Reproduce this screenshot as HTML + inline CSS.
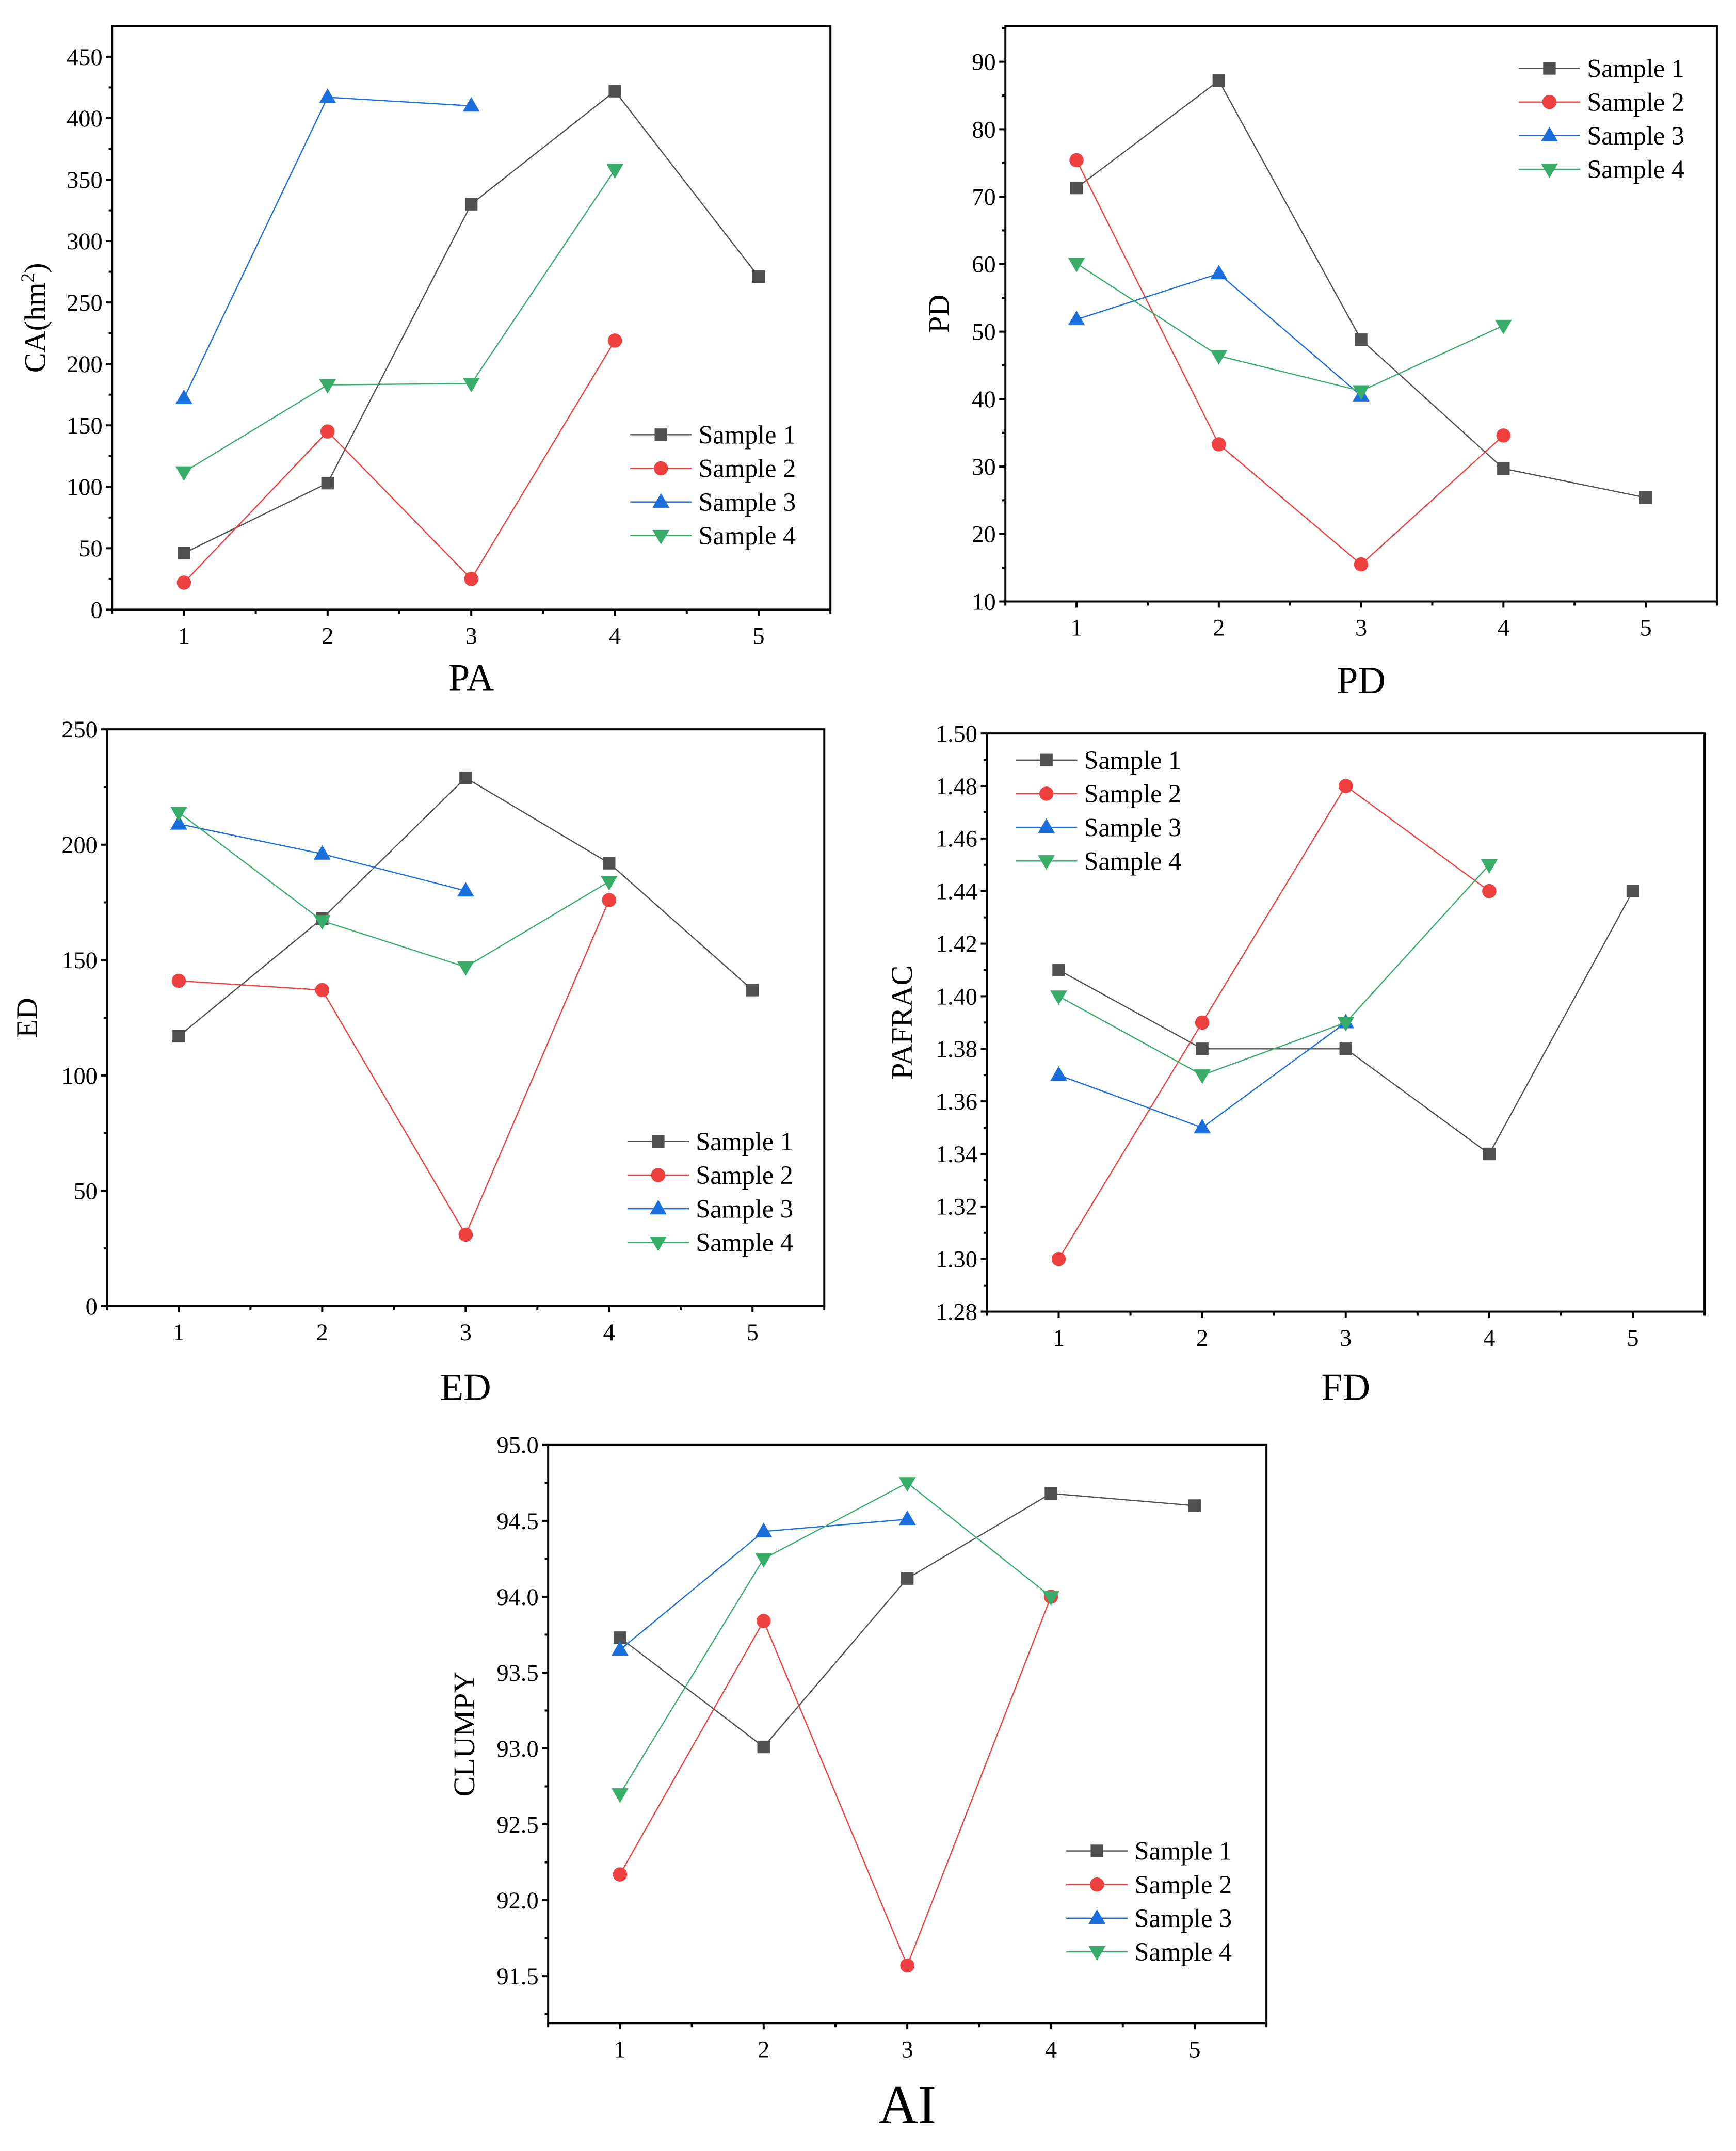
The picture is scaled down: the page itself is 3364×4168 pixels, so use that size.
<!DOCTYPE html>
<html><head><meta charset="utf-8"><style>
html,body{margin:0;padding:0;background:#fff}
svg{display:block}
svg text{font-family:"Liberation Serif","Times New Roman",serif !important;fill:#000}
</style></head><body>
<svg id="fig" width="3364" height="4168" viewBox="0 0 1270 1573.5" xmlns="http://www.w3.org/2000/svg" font-family="Liberation Serif, serif"></svg>
<script>
// ---- data ----
const xCats = [1,2,3,4,5];
const seriesNames = ["Sample 1","Sample 2","Sample 3","Sample 4"];
// Panel 1: CA
const caS1 = [46,103,330,422,271];
const caS2 = [22,145,25,219];
const caS3 = [172,417,410];
const caS4 = [112,183,184,358];
const caTicks = [0,50,100,150,200,250,300,350,400,450];
// Panel 2: PD
const pdS1 = [71.3,87.2,48.8,29.7,25.4];
const pdS2 = [75.4,33.3,15.5,34.6];
const pdS3 = [51.8,58.6,40.5];
const pdS4 = [60.1,46.4,41.2,50.9];
const pdTicks = [10,20,30,40,50,60,70,80,90];
// Panel 3: ED
const edS1 = [117,168,229,192,137];
const edS2 = [141,137,31,176];
const edS3 = [209,196,180];
const edS4 = [214,167,147,184];
const edTicks = [0,50,100,150,200,250];
// Panel 4: PAFRAC
const frS1 = [1.41,1.38,1.38,1.34,1.44];
const frS2 = [1.30,1.39,1.48,1.44];
const frS3 = [1.37,1.35,1.39];
const frS4 = [1.40,1.37,1.39,1.45];
const frTicks = [1.28,1.30,1.32,1.34,1.36,1.38,1.40,1.42,1.44,1.46,1.48,1.50];
// Panel 5: CLUMPY
const clS1 = [93.73,93.01,94.12,94.68,94.60];
const clS2 = [92.17,93.84,91.57,94.0];
const clS3 = [93.65,94.43,94.51];
const clS4 = [92.70,94.25,94.75,94.0];
const clTicks = [91.5,92.0,92.5,93.0,93.5,94.0,94.5,95.0];

const colors = ["#505050","#ef4040","#1a6fdc","#38ad6a"];
const NS = "http://www.w3.org/2000/svg";
const FONT = "Liberation Serif, Times New Roman, serif";
const svg = document.getElementById("fig");
function mk(tag, attrs, parent){
  const e = document.createElementNS(NS, tag);
  for (const k in attrs) e.setAttribute(k, attrs[k]);
  if (tag === "text") e.setAttribute("font-family", FONT);
  (parent||svg).appendChild(e);
  return e;
}
function marker(g, type, x, y, c){
  let m;
  if(type===0){ m = mk("rect",{x:x-4.6,y:y-4.6,width:9.2,height:9.2,fill:c},g); }
  else if(type===1){ m = mk("circle",{cx:x,cy:y,r:5.2,fill:c},g); }
  else if(type===2){ m = mk("polygon",{points:`${x},${y-6.5} ${x+6.2},${y+4.2} ${x-6.2},${y+4.2}`,fill:c},g); }
  else { m = mk("polygon",{points:`${x},${y+6.5} ${x+6.2},${y-4.2} ${x-6.2},${y-4.2}`,fill:c},g); }
  return m;
}
function panel(o){
  const g = mk("g",{});
  
  
  const X = v => o.x0 + (v-0.5)/5*(o.x1-o.x0);
  const Y = v => o.y1 - (v-o.ymin)/(o.ymax-o.ymin)*(o.y1-o.y0);
  const fr = mk("rect",{x:o.x0,y:o.y0,width:o.x1-o.x0,height:o.y1-o.y0,fill:"none",stroke:"#000","stroke-width":1.5},g);
  
  
  const step = o.yt[1]-o.yt[0];
  o.yt.forEach((t,i)=>{
    const y = Y(t);
    mk("line",{x1:o.x0-4.5,x2:o.x0,y1:y,y2:y,stroke:"#000","stroke-width":1.5},g);
    const tx = mk("text",{x:o.x0-7,y:y+6,"text-anchor":"end","font-size":17.5},g);
    tx.textContent = o.fmt ? t.toFixed(o.fmt) : t;
    
    
    const mv = t+step/2;
    if (Y(mv) > o.y0+0.5) mk("line",{x1:o.x0-2.5,x2:o.x0,y1:Y(mv),y2:Y(mv),stroke:"#000","stroke-width":1.5},g);
    if (i===0 && Y(t-step/2) < o.y1-0.5) mk("line",{x1:o.x0-2.5,x2:o.x0,y1:Y(t-step/2),y2:Y(t-step/2),stroke:"#000","stroke-width":1.5},g);
  });
  xCats.forEach(c=>{
    const x = X(c);
    mk("line",{x1:x,x2:x,y1:o.y1,y2:o.y1+4.5,stroke:"#000","stroke-width":1.5},g);
    const tx = mk("text",{x:x,y:o.y1+25,"text-anchor":"middle","font-size":17.5},g);
    tx.textContent = c;
    
    
  });
  [0.5,1.5,2.5,3.5,4.5,5.5].forEach(c=>{
    mk("line",{x1:X(c),x2:X(c),y1:o.y1,y2:o.y1+3,stroke:"#000","stroke-width":1.5},g);
  });
  const xt = mk("text",{x:(o.x0+o.x1)/2,y:o.xty,"text-anchor":"middle","font-size":o.xfs||28},g);
  xt.textContent = o.xtitle;
  
  
  const yt = mk("text",{x:0,y:0,"text-anchor":"middle","font-size":22,transform:`translate(${o.ytx},${(o.y0+o.y1)/2}) rotate(-90)`},g);
  if (o.ysup){ yt.innerHTML = 'CA(hm<tspan dy="-8" font-size="14">2</tspan><tspan dy="8">)</tspan>'; }
  else yt.textContent = o.ytitle;
  
  
  o.series.forEach((s,si)=>{
    const sg = mk("g",{},g);
    
    
    const pts = s.map((v,i)=>X(xCats[i])+","+Y(v)).join(" ");
    mk("polyline",{points:pts,fill:"none",stroke:colors[si],"stroke-width":0.9},sg);
    s.forEach((v,i)=>{
      const m = marker(sg, si, X(xCats[i]), Y(v), colors[si]);
      
      
    });
  });
  const lg = mk("g",{},g);
  
  
  seriesNames.forEach((n,i)=>{
    const y = o.ly + i*24.6;
    const e = mk("g",{},lg);
    
    
    mk("line",{x1:o.lx,x2:o.lx+45,y1:y,y2:y,stroke:colors[i],"stroke-width":0.9},e);
    marker(e, i, o.lx+22.5, y, colors[i]);
    const t = mk("text",{x:o.lx+50,y:y+6.5,"font-size":19},e);
    t.textContent = n;
  });
}
panel({name:"panel-ca",x0:82,x1:607.5,y0:19,y1:446,ymin:0,ymax:475,yt:caTicks,xtitle:"PA",xty:505,ytx:33,ysup:true,
  series:[caS1,caS2,caS3,caS4],lx:461,ly:318});
panel({name:"panel-pd",x0:735.5,x1:1256,y0:19,y1:440,ymin:10,ymax:95.3,yt:pdTicks,xtitle:"PD",xty:507,ytx:694,ytitle:"PD",
  series:[pdS1,pdS2,pdS3,pdS4],lx:1111,ly:50});
panel({name:"panel-ed",x0:78.3,x1:603,y0:533.5,y1:955.5,ymin:0,ymax:250,yt:edTicks,xtitle:"ED",xty:1024,ytx:27,ytitle:"ED",
  series:[edS1,edS2,edS3,edS4],lx:459,ly:835});
panel({name:"panel-pafrac",x0:722,x1:1247,y0:536.5,y1:959.5,ymin:1.28,ymax:1.50,yt:frTicks,fmt:2,xtitle:"FD",xty:1024,ytx:667,ytitle:"PAFRAC",
  series:[frS1,frS2,frS3,frS4],lx:743,ly:556});
panel({name:"panel-clumpy",x0:401,x1:926.5,y0:1057,y1:1480,ymin:91.19,ymax:95.0,yt:clTicks,fmt:1,xtitle:"AI",xty:1553,xfs:40,ytx:347,ytitle:"CLUMPY",
  series:[clS1,clS2,clS3,clS4],lx:780,ly:1354});
</script>
</body></html>
